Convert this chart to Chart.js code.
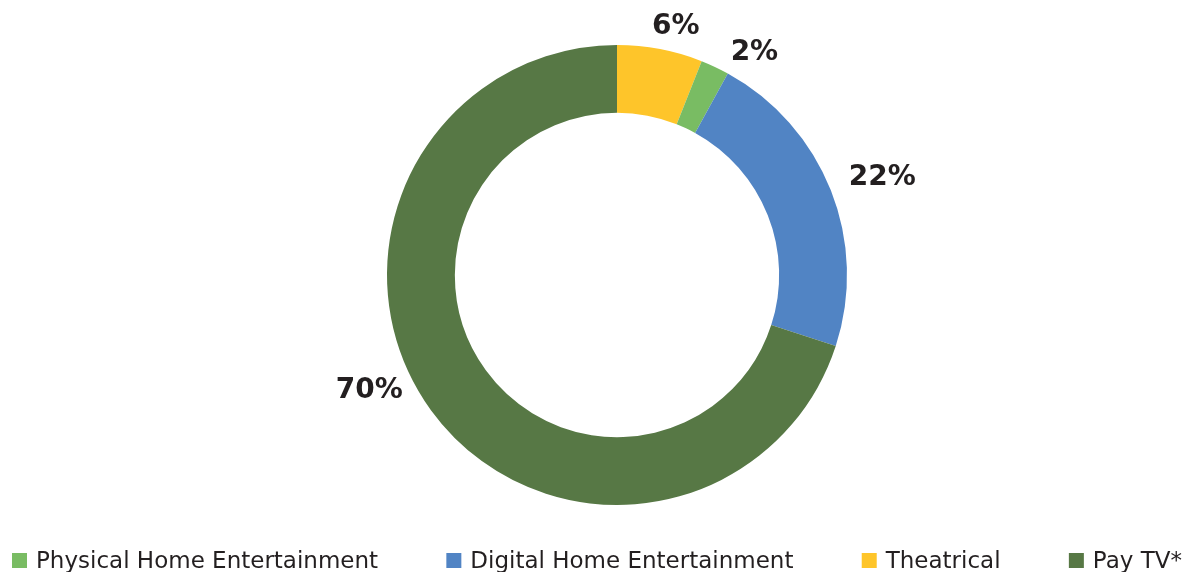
<!DOCTYPE html>
<html>
<head>
<meta charset="utf-8">
<script src="https://cdn.jsdelivr.net/npm/chart.js@4"></script>
<style>
  html, body { margin: 0; padding: 0; background: #fff; }
  #wrap { width: 1187px; height: 572px; }
</style>
</head>
<body>
<div id="wrap"><canvas id="myChart" width="1187" height="572"></canvas></div>
<script>
// slices in drawing order (clockwise from 12 o'clock)
const categories = ['Theatrical', 'Physical Home Entertainment', 'Digital Home Entertainment', 'Pay TV*'];
const shares = [6, 2, 22, 70];
const colors = ['#FEC52A', '#79BC63', '#5184C4', '#577845'];
// legend shows them in this order
const legendOrder = ['Physical Home Entertainment', 'Digital Home Entertainment', 'Theatrical', 'Pay TV*'];

// small angle nudges (degrees) for the outside labels, like the original placement
const labelNudge = [2.5, 6.5, 1.5, 11];
const labelGap = [20, 19, 21, 13];

const textColor = '#231F20';
const labelFont = 'bold 28px "DejaVu Sans"';
const legendFont = '23px "DejaVu Sans"';

const outsideLabels = {
    id: 'outsideLabels',
    afterDatasetsDraw(chart) {
        const c = chart.ctx;
        const meta = chart.getDatasetMeta(0);
        c.save();
        c.font = labelFont;
        c.fillStyle = textColor;
        c.textAlign = 'center';
        c.textBaseline = 'middle';
        meta.data.forEach((arc, i) => {
            const mid = (arc.startAngle + arc.endAngle) / 2 + labelNudge[i] * Math.PI / 180;
            const txt = shares[i] + '%';
            const w = c.measureText(txt).width;
            // push the text out so its box clears the ring
            const r = arc.outerRadius + labelGap[i] + Math.abs(Math.cos(mid)) * w / 2;
            const x = arc.x + Math.cos(mid) * r;
            const y = arc.y + Math.sin(mid) * r;
            c.fillText(txt, x, y);
        });
        c.restore();
    }
};

// legend spread over the full width, as in the original
const spreadLegend = {
    id: 'spreadLegend',
    afterDraw(chart) {
        const c = chart.ctx;
        const left = 12, right = 1182, box = 15, textOff = 24, base = 568;
        c.save();
        c.font = legendFont;
        const widths = legendOrder.map(t => textOff + c.measureText(t).width);
        const total = widths.reduce((a, b) => a + b, 0);
        const gap = (right - left - total) / (legendOrder.length - 1);
        let x = left;
        legendOrder.forEach((t, k) => {
            const i = categories.indexOf(t);
            c.fillStyle = colors[i];
            c.fillRect(x, base - box, box, box);
            c.fillStyle = textColor;
            c.textAlign = 'left';
            c.textBaseline = 'alphabetic';
            c.fillText(t, x + textOff, base);
            x += widths[k] + gap;
        });
        c.restore();
    }
};

const ctx = document.getElementById('myChart').getContext('2d');
const myChart = new Chart(ctx, {
    type: 'doughnut',
    data: {
        labels: categories,
        datasets: [{
            data: shares,
            backgroundColor: colors,
            borderWidth: 0
        }]
    },
    options: {
        responsive: false,
        animation: false,
        radius: 230,
        cutout: '70.5%',
        layout: { padding: { top: 0, left: 47, right: 0, bottom: 22 } },
        plugins: {
            tooltip: { enabled: false },
            legend: { display: false }
        }
    },
    plugins: [outsideLabels, spreadLegend]
});
</script>
</body>
</html>
